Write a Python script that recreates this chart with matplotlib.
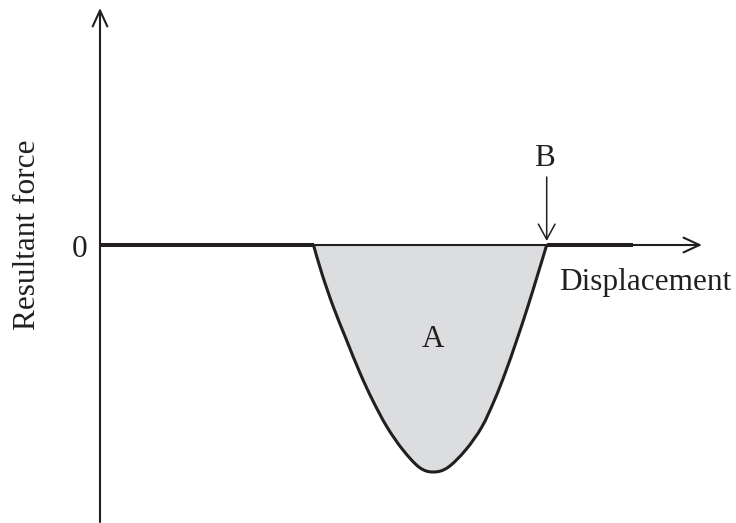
import numpy as np
import matplotlib
matplotlib.use('Agg')
import matplotlib.pyplot as plt
from matplotlib.path import Path
from matplotlib.patches import PathPatch

# 数据：位移与合力（任意单位，读自原图）
flat_left_x = [0, 214]
flat_right_x = [447, 533]
dip_x = [213.5, 221.7, 233.0, 246.5, 260.0, 272.5, 287.0, 303.0, 319.5, 333.3,
         347.8, 365.6, 381.8, 394.5, 405.2, 416.8, 428.0, 438.2, 446.7]
dip_force = [0, -28, -61, -95, -128, -155, -182, -205, -222.5, -227,
             -222.5, -205, -182, -155, -128, -95, -61, -28, 0]

x_label = 'Displacement'
y_label = 'Resultant force'
zero_label = '0'
area_label = 'A'
point_label = 'B'

ink = '#231f20'
fill_grey = '#dcdddf'

plt.rcParams['font.family'] = ['Liberation Serif', 'DejaVu Serif']
fs = 22.5

fig = plt.figure(figsize=(7.36, 5.23), dpi=100)
ax = fig.add_axes([0, 0, 1, 1])
ax.set_xlim(-100, 636)
ax.set_ylim(-278, 245)
ax.axis('off')


# 平滑曲线（Catmull-Rom -> Bezier）
def smooth_path(xs, ys):
    pts = np.column_stack([xs, ys])
    ext = np.vstack([pts[0], pts, pts[-1]])
    verts = [pts[0]]
    codes = [Path.MOVETO]
    for i in range(1, len(ext) - 2):
        p0, p1, p2, p3 = ext[i - 1], ext[i], ext[i + 1], ext[i + 2]
        c1 = p1 + (p2 - p0) / 6
        c2 = p2 - (p3 - p1) / 6
        verts += [c1, c2, p2]
        codes += [Path.CURVE4] * 3
    return verts, codes


verts, codes = smooth_path(dip_x, dip_force)
fill_path = Path(verts + [verts[0]], codes + [Path.LINETO])
ax.add_patch(PathPatch(fill_path, facecolor=fill_grey, edgecolor='none', zorder=1))

# 坐标轴
arrow_style = '->,head_length=1.15,head_width=0.53'
ax.annotate('', xy=(0, 237), xytext=(0, -277),
            arrowprops=dict(arrowstyle=arrow_style, lw=1.5, color=ink,
                            shrinkA=0, shrinkB=0, mutation_scale=10), zorder=2)
ax.annotate('', xy=(602, 0), xytext=(0, 0),
            arrowprops=dict(arrowstyle=arrow_style, lw=1.5, color=ink,
                            shrinkA=0, shrinkB=0, mutation_scale=10), zorder=2)

# 合力曲线
ax.plot(flat_left_x, [0, 0], color=ink, lw=2.9, solid_capstyle='butt', zorder=3)
ax.plot(flat_right_x, [0, 0], color=ink, lw=2.9, solid_capstyle='butt', zorder=3)
ax.add_patch(PathPatch(Path(verts, codes), facecolor='none', edgecolor=ink,
                       lw=2.2, joinstyle='round', zorder=3))

# B 点箭头
ax.annotate('', xy=(dip_x[-1], 4), xytext=(dip_x[-1], 68),
            arrowprops=dict(arrowstyle='->,head_length=1.1,head_width=0.6', lw=1.1,
                            color=ink, shrinkA=0, shrinkB=0, mutation_scale=10), zorder=4)

# 文本
ax.text(dip_x[-1] - 2, 79, point_label, fontsize=fs, color=ink, ha='center', va='baseline')
ax.text(dip_x[9], -102, area_label, fontsize=fs, color=ink, ha='center', va='baseline')
ax.text(459, -45, x_label, fontsize=fs, color=ink, ha='left', va='baseline')
ax.text(-20, -11.5, zero_label, fontsize=fs, color=ink, ha='center', va='baseline')
ax.text(-64.5, 10, y_label, fontsize=fs, color=ink, rotation=90,
        rotation_mode='anchor', ha='center', va='baseline')

fig.savefig('out.png', dpi=100)
